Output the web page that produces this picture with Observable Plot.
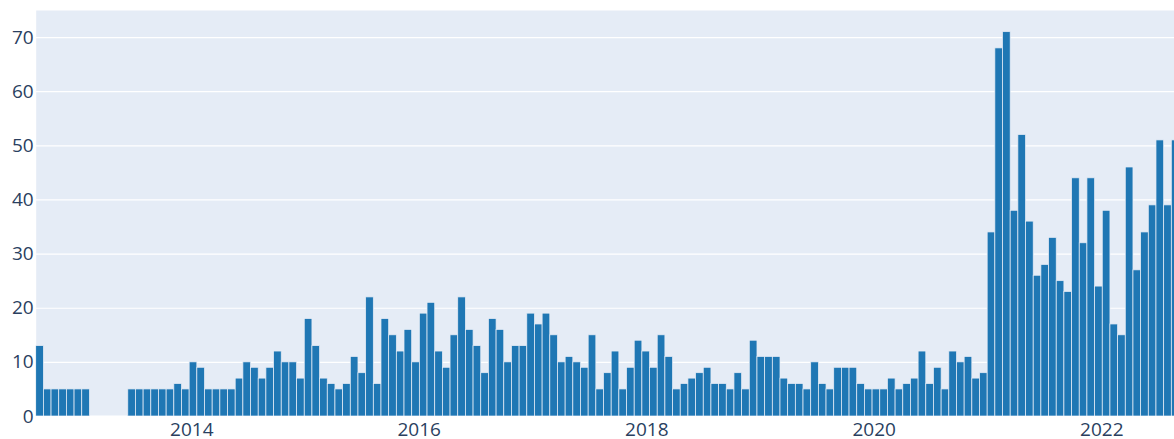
<!DOCTYPE html>
<html>
<head>
<meta charset="utf-8">
<script src="https://cdn.jsdelivr.net/npm/d3@7"></script>
<script src="https://cdn.jsdelivr.net/npm/@observablehq/plot@0.6"></script>
<style>
  html, body { margin: 0; padding: 0; background: #ffffff; }
  #chart svg { display: block; }
</style>
</head>
<body>
<div id="chart"></div>
<script>
// Counts per bin (149 equal-width bins)
const counts = [
  13, 5, 5, 5, 5, 5, 5, 0, 0, 0, 0, 0,
  5, 5, 5, 5, 5, 5, 6, 5, 10, 9,
  5, 5, 5, 5, 7, 10, 9, 7, 9, 12, 10, 10, 7, 18, 13, 7, 6, 5, 6, 11, 8, 22, 6, 18, 15,
  12, 16, 10, 19, 21, 12, 9, 15, 22, 16, 13, 8, 18, 16, 10, 13, 13, 19, 17, 19, 15, 10, 11, 10, 9, 15,
  5, 8, 12, 5, 9, 14, 12, 9, 15, 11, 5, 6, 7, 8, 9, 6, 6, 5, 8, 5, 14, 11, 11, 11, 7,
  6, 6, 5, 10, 6, 5, 9, 9, 9, 6, 5, 5, 5, 7, 5, 6, 7, 12, 6, 9, 5, 12, 10, 11, 7, 8,
  34, 68, 71, 38, 52, 36, 26, 28, 33, 25, 23, 44, 32, 44, 24, 38, 17, 15, 46, 27, 34, 39, 51, 39, 51
];
// Bin definition (histogram bins over time)
const firstBinStart = "2012-08-19T10:00:00Z";
const binDays = 24.638;
const axisEnd = "2022-08-22T10:00:00Z";
// Tick labels
const xTickYears = [2014, 2016, 2018, 2020, 2022];
const yTicks = [0, 10, 20, 30, 40, 50, 60, 70];

const t0 = new Date(firstBinStart).getTime();
const binMs = binDays * 86400000;
const bins = counts.map((v, i) => ({
  x1: new Date(t0 + i * binMs),
  x2: new Date(t0 + (i + 1) * binMs),
  y: v
}));
const xTicks = xTickYears.map(y => new Date(Date.UTC(y, 0, 1)));

const chart = Plot.plot({
  width: 1174,
  height: 439,
  marginLeft: 35.7,
  marginRight: 0,
  marginTop: 10,
  marginBottom: 23,
  style: { fontFamily: "'Open Sans', sans-serif", fontSize: "19px", color: "#2a3f5f", background: "#ffffff" },
  x: { type: "utc", domain: [new Date(firstBinStart), new Date(axisEnd)] },
  y: { domain: [0, 75] },
  marks: [
    Plot.frame({ fill: "#E5ECF6", stroke: null }),
    Plot.gridY(yTicks.filter(v => v > 0), { stroke: "#ffffff", strokeOpacity: 1, strokeWidth: 1.2 }),
    Plot.ruleY([0], { stroke: "#ffffff", strokeWidth: 2 }),
    Plot.rectY(bins, {
      filter: d => d.y > 0,
      x1: "x1", x2: "x2", y: "y",
      fill: "#1f77b4", stroke: "#E5ECF6", strokeWidth: 0.75,
      clip: true
    }),
    Plot.axisX(xTicks, {
      tickSize: 0, tickPadding: 6, label: null,
      tickFormat: d => String(d.getUTCFullYear()),
      fontSize: 19, fill: "#2a3f5f"
    }),
    Plot.axisY(yTicks, {
      tickSize: 0, tickPadding: 2.5, label: null,
      fontSize: 19, fill: "#2a3f5f"
    })
  ]
});
document.getElementById("chart").appendChild(chart);
</script>
</body>
</html>
